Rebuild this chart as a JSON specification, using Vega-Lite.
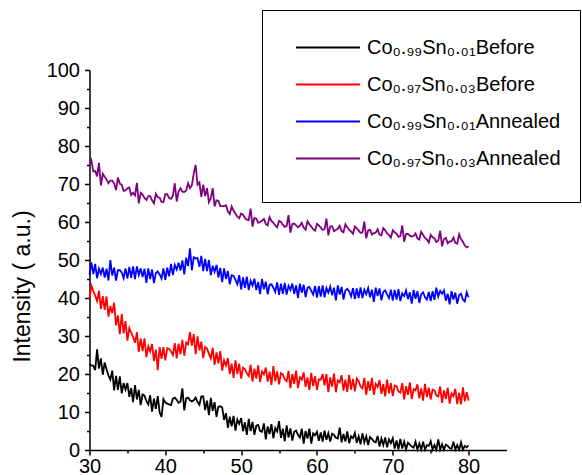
{
"$schema": "https://vega.github.io/schema/vega-lite/v6.json",
"width": 417, "height": 380,
"autosize": {"type": "none"},
"padding": {"left": 89.5, "top": 70, "right": 75.5, "bottom": 25},
"background": "white",
"config": {"view": {"stroke": null},
 "axis": {"grid": false, "domainColor": "#000", "domainWidth": 1.5, "tickColor": "#000", "tickWidth": 1.5, "labelColor": "#000", "labelFont": "Liberation Sans", "labelFontSize": 20, "titleFont": "Liberation Sans", "titleFontSize": 23, "titleFontWeight": "normal", "titleColor": "#000"}},
"data": {"values": [
{"x":30,"a":22.7,"b":39.8,"c":46.1,"d":75.0},
{"x":30.25,"a":22.2,"b":43.2,"c":49.4,"d":76.2},
{"x":30.5,"a":22.2,"b":41.9,"c":46.3,"d":73.3},
{"x":30.75,"a":21.0,"b":40.6,"c":49.0,"d":73.4},
{"x":31,"a":26.5,"b":39.2,"c":45.2,"d":72.0},
{"x":31.25,"a":21.4,"b":41.9,"c":47.7,"d":75.6},
{"x":31.5,"a":24.1,"b":37.1,"c":46.3,"d":69.6},
{"x":31.75,"a":19.8,"b":40.5,"c":48.0,"d":72.7},
{"x":32,"a":23.0,"b":36.9,"c":45.4,"d":71.9},
{"x":32.25,"a":21.2,"b":40.4,"c":47.7,"d":71.2},
{"x":32.5,"a":19.6,"b":35.1,"c":44.6,"d":70.2},
{"x":32.75,"a":18.5,"b":37.9,"c":50.0,"d":70.9},
{"x":33,"a":20.9,"b":36.0,"c":45.9,"d":70.9},
{"x":33.25,"a":15.7,"b":38.8,"c":48.0,"d":70.1},
{"x":33.5,"a":19.5,"b":32.8,"c":44.6,"d":68.4},
{"x":33.75,"a":15.8,"b":35.4,"c":47.3,"d":71.7},
{"x":34,"a":19.4,"b":30.5,"c":47.3,"d":70.1},
{"x":34.25,"a":14.9,"b":35.8,"c":46.7,"d":69.8},
{"x":34.5,"a":17.6,"b":30.7,"c":45.2,"d":68.2},
{"x":34.75,"a":15.9,"b":33.9,"c":47.8,"d":68.3},
{"x":35,"a":17.6,"b":28.8,"c":45.1,"d":68.9},
{"x":35.25,"a":14.0,"b":32.1,"c":48.2,"d":69.1},
{"x":35.5,"a":16.3,"b":30.9,"c":45.3,"d":67.1},
{"x":35.75,"a":12.6,"b":29.8,"c":48.3,"d":67.7},
{"x":36,"a":17.1,"b":28.2,"c":45.0,"d":67.0},
{"x":36.25,"a":13.3,"b":31.0,"c":48.3,"d":70.3},
{"x":36.5,"a":15.8,"b":25.8,"c":46.1,"d":64.9},
{"x":36.75,"a":11.8,"b":29.4,"c":47.8,"d":67.7},
{"x":37,"a":14.6,"b":26.0,"c":45.5,"d":67.2},
{"x":37.25,"a":14.3,"b":29.4,"c":47.7,"d":66.3},
{"x":37.5,"a":12.9,"b":24.4,"c":44.0,"d":65.8},
{"x":37.75,"a":12.0,"b":27.3,"c":47.8,"d":66.8},
{"x":38,"a":14.4,"b":25.9,"c":45.0,"d":66.8},
{"x":38.25,"a":10.1,"b":27.9,"c":47.5,"d":65.7},
{"x":38.5,"a":13.5,"b":23.4,"c":43.9,"d":64.9},
{"x":38.75,"a":10.8,"b":26.4,"c":46.5,"d":67.4},
{"x":39,"a":14.2,"b":21.0,"c":47.0,"d":66.5},
{"x":39.25,"a":9.9,"b":27.1,"c":46.2,"d":66.4},
{"x":39.5,"a":8.7,"b":24.0,"c":45.1,"d":65.3},
{"x":39.75,"a":13.4,"b":27.1,"c":47.8,"d":65.2},
{"x":40,"a":12.5,"b":23.6,"c":44.8,"d":67.3},
{"x":40.25,"a":12.2,"b":26.8,"c":48.0,"d":67.3},
{"x":40.5,"a":12.0,"b":26.6,"c":45.7,"d":66.3},
{"x":40.75,"a":11.8,"b":25.9,"c":49.0,"d":66.1},
{"x":41,"a":13.5,"b":25.0,"c":46.0,"d":66.9},
{"x":41.25,"a":13.8,"b":28.1,"c":48.7,"d":70.2},
{"x":41.5,"a":13.2,"b":24.1,"c":47.5,"d":65.4},
{"x":41.75,"a":12.4,"b":28.0,"c":49.3,"d":68.1},
{"x":42,"a":12.7,"b":25.2,"c":47.2,"d":68.9},
{"x":42.25,"a":16.2,"b":29.0,"c":49.9,"d":68.0},
{"x":42.5,"a":10.4,"b":24.8,"c":46.2,"d":67.9},
{"x":42.75,"a":13.6,"b":28.3,"c":50.6,"d":68.3},
{"x":43,"a":13.8,"b":27.8,"c":48.4,"d":70.2},
{"x":43.25,"a":13.1,"b":31.0,"c":53.1,"d":68.9},
{"x":43.5,"a":12.8,"b":27.5,"c":47.3,"d":69.6},
{"x":43.75,"a":13.1,"b":30.5,"c":50.7,"d":72.8},
{"x":44,"a":13.8,"b":25.2,"c":50.4,"d":75.0},
{"x":44.25,"a":12.6,"b":29.9,"c":50.5,"d":69.8},
{"x":44.5,"a":11.9,"b":26.2,"c":48.2,"d":70.4},
{"x":44.75,"a":14.1,"b":28.5,"c":51.1,"d":66.6},
{"x":45,"a":14.1,"b":24.2,"c":47.1,"d":69.8},
{"x":45.25,"a":10.5,"b":27.1,"c":50.3,"d":66.8},
{"x":45.5,"a":13.0,"b":26.7,"c":47.1,"d":68.9},
{"x":45.75,"a":9.2,"b":25.3,"c":50.0,"d":65.2},
{"x":46,"a":13.7,"b":24.1,"c":46.0,"d":66.2},
{"x":46.25,"a":10.3,"b":26.9,"c":48.5,"d":68.9},
{"x":46.5,"a":12.6,"b":22.4,"c":46.9,"d":64.1},
{"x":46.75,"a":8.7,"b":25.7,"c":48.7,"d":65.7},
{"x":47,"a":11.4,"b":22.8,"c":45.4,"d":65.6},
{"x":47.25,"a":11.5,"b":26.0,"c":47.9,"d":64.2},
{"x":47.5,"a":11.2,"b":20.9,"c":44.2,"d":64.2},
{"x":47.75,"a":7.9,"b":23.6,"c":47.8,"d":64.2},
{"x":48,"a":9.7,"b":22.2,"c":45.0,"d":64.4},
{"x":48.25,"a":5.8,"b":24.2,"c":47.1,"d":62.8},
{"x":48.5,"a":8.8,"b":20.0,"c":43.6,"d":62.1},
{"x":48.75,"a":6.2,"b":22.7,"c":46.0,"d":64.1},
{"x":49,"a":9.0,"b":19.0,"c":45.8,"d":63.0},
{"x":49.25,"a":5.1,"b":23.6,"c":44.8,"d":62.2},
{"x":49.5,"a":8.0,"b":20.0,"c":43.6,"d":61.4},
{"x":49.75,"a":6.9,"b":22.7,"c":46.0,"d":61.0},
{"x":50,"a":8.4,"b":18.8,"c":42.3,"d":62.2},
{"x":50.25,"a":5.0,"b":21.7,"c":45.4,"d":61.9},
{"x":50.5,"a":7.3,"b":21.3,"c":42.7,"d":61.1},
{"x":50.75,"a":4.0,"b":20.2,"c":45.6,"d":60.6},
{"x":51,"a":8.2,"b":19.5,"c":42.1,"d":60.5},
{"x":51.25,"a":5.0,"b":22.4,"c":44.5,"d":63.5},
{"x":51.5,"a":7.4,"b":18.0,"c":43.3,"d":58.8},
{"x":51.75,"a":4.0,"b":21.4,"c":45.1,"d":61.1},
{"x":52,"a":6.4,"b":18.8,"c":42.1,"d":60.9},
{"x":52.25,"a":6.6,"b":22.3,"c":44.2,"d":59.8},
{"x":52.5,"a":5.0,"b":17.9,"c":41.0,"d":60.0},
{"x":52.75,"a":4.8,"b":20.7,"c":45.0,"d":60.3},
{"x":53,"a":7.0,"b":19.9,"c":42.3,"d":60.8},
{"x":53.25,"a":2.8,"b":21.7,"c":44.3,"d":59.5},
{"x":53.5,"a":6.2,"b":18.0,"c":41.0,"d":59.1},
{"x":53.75,"a":4.2,"b":20.6,"c":43.5,"d":61.3},
{"x":54,"a":6.8,"b":17.1,"c":43.6,"d":60.3},
{"x":54.25,"a":3.1,"b":22.1,"c":42.7,"d":59.8},
{"x":54.5,"a":5.8,"b":18.1,"c":41.6,"d":59.1},
{"x":54.75,"a":4.9,"b":20.7,"c":44.1,"d":58.6},
{"x":55,"a":7.6,"b":17.3,"c":40.8,"d":60.3},
{"x":55.25,"a":3.2,"b":20.2,"c":43.8,"d":60.0},
{"x":55.5,"a":5.6,"b":19.9,"c":41.1,"d":59.3},
{"x":55.75,"a":2.3,"b":18.6,"c":44.0,"d":58.7},
{"x":56,"a":6.5,"b":18.1,"c":40.9,"d":58.9},
{"x":56.25,"a":3.3,"b":20.8,"c":43.2,"d":61.8},
{"x":56.5,"a":5.7,"b":16.3,"c":42.1,"d":57.2},
{"x":56.75,"a":2.5,"b":20.0,"c":43.8,"d":59.5},
{"x":57,"a":4.8,"b":17.4,"c":41.1,"d":59.6},
{"x":57.25,"a":5.1,"b":20.9,"c":43.3,"d":59.1},
{"x":57.5,"a":4.0,"b":16.3,"c":40.0,"d":58.6},
{"x":57.75,"a":3.3,"b":19.1,"c":43.8,"d":59.0},
{"x":58,"a":5.6,"b":18.5,"c":41.4,"d":59.8},
{"x":58.25,"a":1.7,"b":20.4,"c":43.5,"d":58.5},
{"x":58.5,"a":5.0,"b":16.6,"c":40.2,"d":58.0},
{"x":58.75,"a":3.0,"b":19.1,"c":42.7,"d":60.2},
{"x":59,"a":5.6,"b":15.8,"c":42.9,"d":59.4},
{"x":59.25,"a":1.7,"b":20.3,"c":41.9,"d":58.8},
{"x":59.5,"a":4.4,"b":16.8,"c":40.9,"d":58.1},
{"x":59.75,"a":3.9,"b":19.4,"c":43.2,"d":57.7},
{"x":60,"a":4.8,"b":15.8,"c":40.1,"d":59.5},
{"x":60.25,"a":2.4,"b":18.6,"c":43.1,"d":59.1},
{"x":60.5,"a":4.6,"b":18.5,"c":40.4,"d":58.5},
{"x":60.75,"a":2.2,"b":20.0,"c":43.3,"d":57.9},
{"x":61,"a":5.1,"b":17.0,"c":40.2,"d":58.1},
{"x":61.25,"a":2.7,"b":20.0,"c":42.6,"d":60.9},
{"x":61.5,"a":4.4,"b":15.2,"c":41.4,"d":56.5},
{"x":61.75,"a":2.2,"b":19.1,"c":43.0,"d":58.8},
{"x":62,"a":4.3,"b":16.7,"c":40.7,"d":58.9},
{"x":62.25,"a":4.0,"b":20.1,"c":42.7,"d":57.6},
{"x":62.5,"a":3.2,"b":15.2,"c":39.4,"d":57.9},
{"x":62.75,"a":3.0,"b":18.3,"c":43.3,"d":58.2},
{"x":63,"a":5.9,"b":17.8,"c":40.9,"d":59.0},
{"x":63.25,"a":2.0,"b":19.7,"c":42.9,"d":57.6},
{"x":63.5,"a":4.2,"b":15.6,"c":39.6,"d":57.3},
{"x":63.75,"a":2.2,"b":18.5,"c":42.0,"d":59.4},
{"x":64,"a":4.9,"b":15.3,"c":42.4,"d":58.6},
{"x":64.25,"a":1.8,"b":19.8,"c":41.7,"d":57.9},
{"x":64.5,"a":3.6,"b":15.9,"c":40.4,"d":57.5},
{"x":64.75,"a":3.1,"b":18.7,"c":42.6,"d":56.9},
{"x":65,"a":4.5,"b":15.4,"c":39.7,"d":58.8},
{"x":65.25,"a":1.9,"b":18.8,"c":42.5,"d":58.3},
{"x":65.5,"a":3.6,"b":18.1,"c":40.0,"d":57.8},
{"x":65.75,"a":1.5,"b":16.7,"c":42.8,"d":57.1},
{"x":66,"a":4.4,"b":16.2,"c":40.0,"d":57.3},
{"x":66.25,"a":2.0,"b":19.0,"c":42.2,"d":60.1},
{"x":66.5,"a":3.6,"b":14.5,"c":41.0,"d":55.7},
{"x":66.75,"a":1.3,"b":18.1,"c":42.6,"d":57.8},
{"x":67,"a":3.4,"b":15.6,"c":40.2,"d":58.0},
{"x":67.25,"a":2.9,"b":19.0,"c":42.2,"d":56.7},
{"x":67.5,"a":2.3,"b":14.5,"c":39.0,"d":57.1},
{"x":67.75,"a":2.0,"b":17.4,"c":42.7,"d":57.2},
{"x":68,"a":3.7,"b":16.6,"c":40.5,"d":58.1},
{"x":68.25,"a":0.9,"b":18.4,"c":42.5,"d":56.7},
{"x":68.5,"a":3.0,"b":14.8,"c":39.4,"d":56.5},
{"x":68.75,"a":1.3,"b":17.3,"c":41.6,"d":58.4},
{"x":69,"a":3.3,"b":14.1,"c":42.0,"d":57.8},
{"x":69.25,"a":0.7,"b":18.5,"c":40.9,"d":57.0},
{"x":69.5,"a":2.8,"b":14.9,"c":40.0,"d":56.6},
{"x":69.75,"a":1.8,"b":17.6,"c":42.2,"d":55.9},
{"x":70,"a":3.1,"b":14.2,"c":39.3,"d":57.8},
{"x":70.25,"a":0.4,"b":17.0,"c":42.1,"d":57.3},
{"x":70.5,"a":2.5,"b":16.8,"c":39.6,"d":56.9},
{"x":70.75,"a":0.2,"b":15.4,"c":42.3,"d":56.1},
{"x":71,"a":2.9,"b":15.1,"c":39.2,"d":56.3},
{"x":71.25,"a":0.4,"b":17.6,"c":41.2,"d":59.1},
{"x":71.5,"a":2.2,"b":13.3,"c":40.5,"d":54.8},
{"x":71.75,"a":0.2,"b":16.8,"c":42.0,"d":56.9},
{"x":72,"a":1.9,"b":14.5,"c":39.7,"d":56.9},
{"x":72.25,"a":1.4,"b":17.8,"c":41.5,"d":56.4},
{"x":72.5,"a":0.9,"b":13.4,"c":38.5,"d":56.2},
{"x":72.75,"a":0.6,"b":16.0,"c":42.1,"d":56.3},
{"x":73,"a":2.2,"b":15.7,"c":39.8,"d":57.0},
{"x":73.25,"a":0.1,"b":17.3,"c":41.8,"d":55.7},
{"x":73.5,"a":1.7,"b":13.6,"c":38.7,"d":55.4},
{"x":73.75,"a":0.1,"b":16.2,"c":41.0,"d":57.4},
{"x":74,"a":2.2,"b":13.0,"c":41.5,"d":56.6},
{"x":74.25,"a":0.1,"b":17.4,"c":40.2,"d":55.8},
{"x":74.5,"a":1.3,"b":13.9,"c":39.6,"d":55.4},
{"x":74.75,"a":1.1,"b":16.4,"c":41.6,"d":54.6},
{"x":75,"a":2.3,"b":13.3,"c":39.2,"d":56.6},
{"x":75.25,"a":0.1,"b":15.9,"c":41.8,"d":56.0},
{"x":75.5,"a":1.3,"b":15.7,"c":39.5,"d":55.7},
{"x":75.75,"a":0.1,"b":14.3,"c":42.7,"d":54.7},
{"x":76,"a":2.8,"b":14.1,"c":40.4,"d":55.1},
{"x":76.25,"a":0.1,"b":16.7,"c":41.9,"d":57.7},
{"x":76.5,"a":1.5,"b":12.4,"c":41.1,"d":53.6},
{"x":76.75,"a":0.1,"b":15.7,"c":42.0,"d":55.5},
{"x":77,"a":1.4,"b":13.4,"c":39.3,"d":55.8},
{"x":77.25,"a":1.1,"b":16.4,"c":41.1,"d":54.4},
{"x":77.5,"a":0.5,"b":12.2,"c":38.3,"d":54.9},
{"x":77.75,"a":0.3,"b":14.9,"c":41.8,"d":54.9},
{"x":78,"a":2.2,"b":14.2,"c":39.6,"d":55.9},
{"x":78.25,"a":0.1,"b":16.1,"c":41.4,"d":54.5},
{"x":78.5,"a":1.3,"b":12.1,"c":38.5,"d":54.3},
{"x":78.75,"a":0.1,"b":15.0,"c":40.7,"d":56.8},
{"x":79,"a":2.0,"b":12.0,"c":41.1,"d":55.5},
{"x":79.25,"a":0.1,"b":16.5,"c":39.6,"d":54.8},
{"x":79.5,"a":1.1,"b":12.8,"c":39.1,"d":53.8},
{"x":79.75,"a":0.7,"b":15.2,"c":41.5,"d":53.3},
{"x":80,"a":1.2,"b":13.0,"c":40.2,"d":53.6}
]},
"transform": [{"fold": ["a", "b", "c", "d"], "as": ["series", "value"]}],
"mark": {"type": "line", "strokeWidth": 1.8},
"encoding": {
 "x": {"field": "x", "type": "quantitative",
  "scale": {"domain": [30, 85], "nice": false, "zero": false},
  "axis": {"title": null, "values": [30, 35, 40, 45, 50, 55, 60, 65, 70, 75, 80], "labelFlush": false, "labelPadding": 1,
   "labelExpr": "datum.value % 10 === 0 ? datum.label : ''",
   "tickSize": {"condition": {"test": "datum.value % 10 === 0", "value": 5}, "value": 3}}},
 "y": {"field": "value", "type": "quantitative",
  "scale": {"domain": [0, 100], "nice": false},
  "axis": {"title": "Intensity ( a.u.)", "titlePadding": 12, "titleY": 216, "labelPadding": 5,
   "values": [0, 5, 10, 15, 20, 25, 30, 35, 40, 45, 50, 55, 60, 65, 70, 75, 80, 85, 90, 95, 100],
   "labelExpr": "datum.value % 10 === 0 ? datum.label : ''",
   "tickSize": {"condition": {"test": "datum.value % 10 === 0", "value": 5}, "value": 3}}},
 "color": {"field": "series", "type": "nominal",
  "scale": {"domain": ["a", "b", "c", "d"], "range": ["#000000", "#ff0000", "#0000ff", "#800080"]},
  "legend": {"orient": "none", "legendX": 172.5, "legendY": -60, "title": " ", "titleOrient": "bottom", "titleFontSize": 3, "titlePadding": 3, "padding": 19,
   "strokeColor": "#000", "fillColor": "#fff", "symbolType": "M-4,0H4", "symbolSize": 256, "symbolStrokeWidth": 2,
   "symbolOffset": 37, "labelOffset": 29, "labelFontSize": 20, "labelFont": "Liberation Sans", "labelColor": "#000",
   "labelLimit": 400, "rowPadding": 0, "clipHeight": 37,
   "labelExpr": "datum.label == 'a' ? 'Co₀.₉₉Sn₀.₀₁Before' : datum.label == 'b' ? 'Co₀.₉₇Sn₀.₀₃Before' : datum.label == 'c' ? 'Co₀.₉₉Sn₀.₀₁Annealed' : 'Co₀.₉₇Sn₀.₀₃Annealed'"}}
}
}
